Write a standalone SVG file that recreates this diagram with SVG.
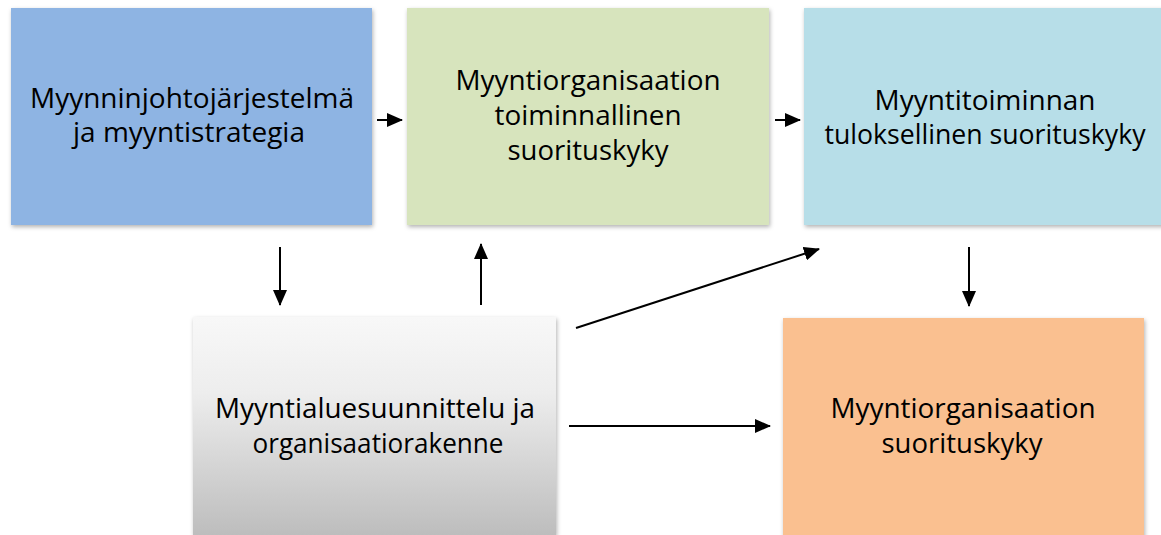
<svg xmlns="http://www.w3.org/2000/svg" width="1161" height="535" viewBox="0 0 1161 535">
  <style>
    .box { filter: url(#shadow); }
    .label { font-family: "Open Sans", "Liberation Sans", sans-serif; font-size: 27px; fill: #000; text-anchor: middle; }
    .conn { stroke: #000; stroke-width: 2; fill: none; marker-end: url(#head); }
  </style>
  <defs>
    <filter id="shadow" x="-5%" y="-5%" width="110%" height="115%">
      <feDropShadow dx="1" dy="2" stdDeviation="2" flood-color="#000" flood-opacity="0.3"/>
    </filter>
    <linearGradient id="grayFill" x1="0" y1="0" x2="0" y2="1">
      <stop offset="0" stop-color="#F8F8F8"/>
      <stop offset="0.35" stop-color="#EDEDED"/>
      <stop offset="1" stop-color="#BDBDBD"/>
    </linearGradient>
    <marker id="head" markerUnits="userSpaceOnUse" markerWidth="16" markerHeight="14" refX="15" refY="7" orient="auto">
      <path d="M0,0 L16,7 L0,14 z" fill="#000"/>
    </marker>
  </defs>

  <g id="node-strategy">
    <rect class="box" x="11" y="8" width="361" height="217" fill="#8EB4E3"/>
    <text class="label" x="192" y="108" textLength="324" lengthAdjust="spacingAndGlyphs">Myynninjohtojärjestelmä</text>
    <text class="label" x="189" y="142" textLength="232" lengthAdjust="spacingAndGlyphs">ja myyntistrategia</text>
  </g>

  <g id="node-operational">
    <rect class="box" x="407" y="8" width="362" height="217" fill="#D7E4BD"/>
    <text class="label" x="588" y="90" textLength="265" lengthAdjust="spacingAndGlyphs">Myyntiorganisaation</text>
    <text class="label" x="588" y="125" textLength="187" lengthAdjust="spacingAndGlyphs">toiminnallinen</text>
    <text class="label" x="588" y="160" textLength="161" lengthAdjust="spacingAndGlyphs">suorituskyky</text>
  </g>

  <g id="node-outcome">
    <rect class="box" x="804" y="8" width="362" height="217" fill="#B7DEE8"/>
    <text class="label" x="985" y="110" textLength="221" lengthAdjust="spacingAndGlyphs">Myyntitoiminnan</text>
    <text class="label" x="985" y="144" textLength="321" lengthAdjust="spacingAndGlyphs">tuloksellinen suorituskyky</text>
  </g>

  <g id="node-territory">
    <rect class="box" x="193" y="317" width="363" height="218" fill="url(#grayFill)"/>
    <text class="label" x="375" y="418" textLength="320" lengthAdjust="spacingAndGlyphs">Myyntialuesuunnittelu ja</text>
    <text class="label" x="378" y="453" textLength="251" lengthAdjust="spacingAndGlyphs">organisaatiorakenne</text>
  </g>

  <g id="node-performance">
    <rect class="box" x="783" y="318" width="361" height="220" fill="#FAC090"/>
    <text class="label" x="963" y="418" textLength="265" lengthAdjust="spacingAndGlyphs">Myyntiorganisaation</text>
    <text class="label" x="962" y="453" textLength="161" lengthAdjust="spacingAndGlyphs">suorituskyky</text>
  </g>

  <g id="connectors">
    <line class="conn" x1="377" y1="120" x2="402" y2="120"/>
    <line class="conn" x1="775" y1="120" x2="800" y2="120"/>
    <line class="conn" x1="280" y1="247" x2="280" y2="305"/>
    <line class="conn" x1="481" y1="305" x2="481" y2="244"/>
    <line class="conn" x1="576" y1="328" x2="819" y2="249"/>
    <line class="conn" x1="969" y1="247" x2="969" y2="306"/>
    <line class="conn" x1="569" y1="426" x2="770" y2="426"/>
  </g>
</svg>
